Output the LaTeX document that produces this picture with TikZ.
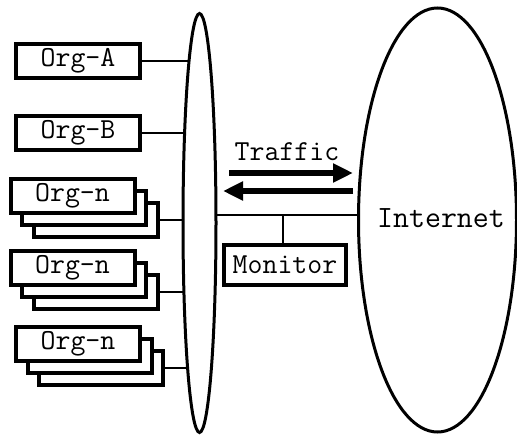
\documentclass[tikz,border=0pt]{standalone}
\usepackage{fontspec}
\usetikzlibrary{shapes.geometric,arrows.meta,backgrounds}
\newcommand\boxfont{\ttfamily\fontsize{29}{34}\selectfont}
\newcommand\netfont{\ttfamily\fontsize{31}{36}\selectfont}
\tikzset{
  orgbox/.style={draw, line width=4pt, fill=white, minimum width=124pt,
    minimum height=34pt, inner sep=0pt, font=\boxfont},
  monbox/.style={orgbox, minimum width=122pt, minimum height=40pt},
  link/.style={line width=2pt},
  oval/.style={draw, ellipse, line width=3pt, fill=white, inner sep=0pt},
  flow/.style={line width=6pt, -{Triangle[length=20pt,width=18pt]}}
}
\begin{document}
\begin{tikzpicture}[x=1pt, y=-1pt]
\useasboundingbox (0,0) rectangle (517,436);

% access bus and the Internet
\node[oval, minimum width=33pt, minimum height=419pt] (bus) at (199.5,223) {};
\node[oval, minimum width=158pt, minimum height=424pt] (net) at (437.5,220) {};
\node[font=\netfont] (netlabel) at (441,218) {Internet};

% single organisations
\node[orgbox] (orgA) at (78,61) {Org-A};
\node[orgbox] (orgB) at (78,132.5) {Org-B};

% stacked organisations: two copies behind each front box
\foreach \i/\x/\y in {1/72.5/196, 2/72.5/268, 3/78/344} {
  \node[orgbox] (n\i c) at (\x+23,\y+24) {};
  \node[orgbox] (n\i b) at (\x+11.5,\y+12) {};
  \node[orgbox] (n\i a) at (\x,\y) {Org-n};
}

% monitor on the uplink
\node[monbox] (mon) at (285,265) {Monitor};
\coordinate (tap) at (283,215);

% traffic in both directions
\node[font=\boxfont] (traffic) at (287,152) {Traffic};
\coordinate (outA) at (229,173);
\coordinate (outB) at (353,173);
\coordinate (inA) at (353,191);
\coordinate (inB) at (223,191);
\draw[flow] (outA) -- (outB);
\draw[flow] (inA) -- (inB);

\begin{pgfonlayer}{background}
  \draw[link] (orgA.east) -- (orgA.east -| bus.center);
  \draw[link] (orgB.east) -- (orgB.east -| bus.center);
  \foreach \i in {1,2,3}
    \draw[link] (n\i c.east) -- (n\i c.east -| bus.center);
  \draw[link] (bus.center |- tap) -- (net.center |- tap);
  \draw[link] (tap) -- (tap |- mon.north);
\end{pgfonlayer}
\end{tikzpicture}
\end{document}
